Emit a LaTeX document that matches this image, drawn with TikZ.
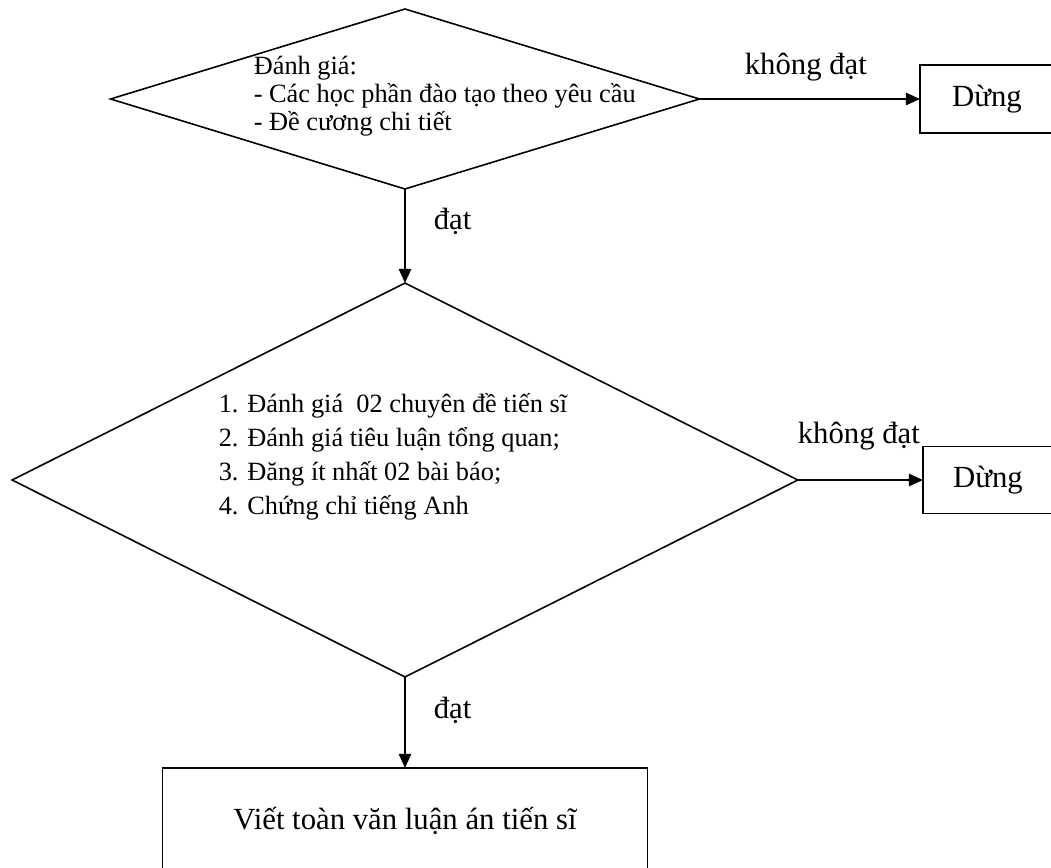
\documentclass[tikz,border=0pt]{standalone}
\usepackage{fontspec}
\setmainfont{Liberation Serif}
\usetikzlibrary{shapes.geometric,arrows.meta}
\begin{document}
\begin{tikzpicture}[>={Triangle[length=8pt,width=7pt]},x=0.02cm,y=-0.02cm,line width=0.9pt,
  choice/.style={draw,diamond,inner sep=0pt,outer sep=0pt},
  box/.style={draw,rectangle,outer sep=0pt,font=\fontsize{17.5pt}{20pt}\selectfont},
  lbl/.style={inner sep=0pt,font=\fontsize{17.5pt}{20pt}\selectfont},
  txt/.style={inner sep=0pt,font=\fontsize{15pt}{18pt}\selectfont}]
  \useasboundingbox (0,0) rectangle (1051,868);
  \clip (0,0) rectangle (1051,868);
  % cac khoi danh gia
  \node[choice,minimum width=11.78cm,minimum height=3.6cm] (dg1) at (405,99) {};
  \node[choice,minimum width=15.72cm,minimum height=7.88cm] (dg2) at (405,480) {};
  \foreach \t [count=\i] in {{Đánh giá:},{- Các học phần đào tạo theo yêu cầu},{- Đề cương chi tiết}}
    \node[txt,anchor=base west] (a\i) at (253,{75+28*(\i-1)}) {\t};
  \foreach \t [count=\i] in {{1. Đánh giá~ 02 chuyên đề tiến sĩ},{2. Đánh giá tiêu luận tổng quan;},{3. Đăng ít nhất 02 bài báo;},{4. Chứng chỉ tiếng Anh}}
    \node[txt,anchor=base west] (b\i) at (218,{412+34*(\i-1)}) {\t};
  % cac hop
  \node[box,anchor=west,minimum width=2.68cm,minimum height=1.36cm] (dung1) at (920,99) {Dừng};
  \node[box,anchor=west,minimum width=2.6cm,minimum height=1.34cm] (dung2) at (923,480) {Dừng};
  \node[box,anchor=north,minimum width=9.7cm,minimum height=2.1cm] (viet) at (405,768) {Viết toàn văn luận án tiến sĩ};
  % mui ten
  \draw[->] (dg1.east) -- (dung1.west);
  \draw[->] (dg1.south) -- (dg2.north);
  \draw[->] (dg2.east) -- (dung2.west);
  \draw[->] (dg2.south) -- (viet.north);
  \node[lbl,anchor=base west] (kd1) at (744,75) {không đạt};
  \node[lbl,anchor=base west] (kd2) at (797,443) {không đạt};
  \node[lbl,anchor=base west] (dat1) at (433,230) {đạt};
  \node[lbl,anchor=base west] (dat2) at (433,718) {đạt};
\end{tikzpicture}
\end{document}
